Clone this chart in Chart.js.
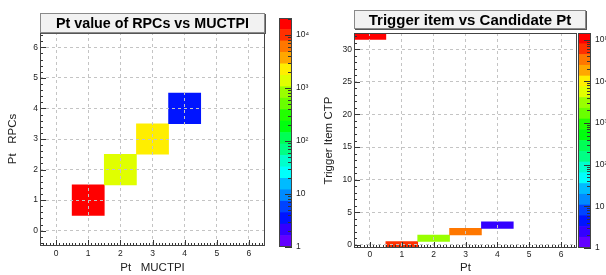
<!DOCTYPE html>
<html><head><meta charset="utf-8">
<script src="https://cdn.jsdelivr.net/npm/chart.js@4.4.1/dist/chart.umd.min.js"></script>
<style>
html,body{margin:0;padding:0;background:#fff;}
body{width:606px;height:275px;position:relative;overflow:hidden;font-family:"Liberation Sans","DejaVu Sans",Arial,sans-serif;}
canvas{position:absolute;top:0;}
.ttl{position:absolute;box-sizing:border-box;background:#f2f2f2;border:1px solid #8a8a8a;box-shadow:1px 1px 0 #555;font-weight:bold;font-size:15px;color:#000;text-align:center;white-space:nowrap;}
</style></head><body>
<canvas id="c1" width="303" height="275" style="left:0px"></canvas>
<canvas id="p1" width="50" height="275" style="left:270px"></canvas>
<canvas id="c2" width="303" height="275" style="left:303px"></canvas>
<canvas id="p2" width="36" height="275" style="left:570px"></canvas>
<div class="ttl" style="left:40px;top:13px;width:225px;height:20px;line-height:18px;font-size:14.3px">Pt value of RPCs vs MUCTPI</div>
<div class="ttl" style="left:354px;top:10px;width:232px;height:19px;line-height:17px">Trigger item vs Candidate Pt</div>
<script>
// ---- data ----
const rpcPtMuctpi = [1, 2, 3, 4];
const rpcPtRpc    = [1, 2, 3, 4];
const rpcCounts   = [20700, 1300, 2300, 4];

const trigPt      = [0, 1, 2, 3, 4];
const trigItem    = [32, 0, 1, 2, 3];
const trigCounts  = [144000, 60000, 3200, 35000, 3];

const ptTicks   = [0, 1, 2, 3, 4, 5, 6];
const rpcYTicks = [0, 1, 2, 3, 4, 5, 6];
const itemTicks = [0, 5, 10, 15, 20, 25, 30];
const zLabels = {1:'1', 10:'10', 100:'10\u00B2', 1000:'10\u00B3', 10000:'10\u2074', 100000:'10\u2075'};

// ---- style ----
const TF = "'Liberation Sans','DejaVu Sans',Arial,sans-serif";
const NB = 20;
function bandColor(k){
  const idx = Math.floor((k + 0.99) * 50 / NB);
  const hue = 280 - (idx + 1) * 5.6;
  return 'hsl(' + hue.toFixed(1) + ',100%,50%)';
}
function colorFor(v, zmax){
  let k = Math.floor(Math.log10(v) / Math.log10(zmax) * NB);
  k = Math.max(0, Math.min(NB - 1, k));
  return bandColor(k);
}
function range(a, b, st){ const r=[]; for(let i=0;a+i*st<=b+1e-9;i++){ r.push(+(a+i*st).toFixed(4)); } return r; }

const framePlugin = {
  id:'frame',
  afterDraw(chart, args, opts){
    const ctx = chart.ctx, a = chart.chartArea;
    ctx.save();
    ctx.strokeStyle = '#333'; ctx.lineWidth = 1;
    ctx.beginPath();
    for (const t of (opts.ticks || [])) {
      const s = chart.scales[t.axis];
      for (const v of t.values) {
        const p = Math.round(s.getPixelForValue(v)) + 0.5;
        if (t.side === 'bottom') { ctx.moveTo(p, a.bottom); ctx.lineTo(p, a.bottom - t.len); }
        else if (t.side === 'left') { ctx.moveTo(a.left, p); ctx.lineTo(a.left + t.len, p); }
        else { ctx.moveTo(a.right, p); ctx.lineTo(a.right - t.len, p); }
      }
    }
    ctx.stroke();
    ctx.strokeStyle = '#444';
    ctx.strokeRect(a.left + 0.5, a.top + 0.5, a.right - a.left - 1, a.bottom - a.top - 1);
    ctx.restore();
  }
};
function noPad(s){ s.paddingTop = 0; s.paddingBottom = 0; s.paddingLeft = 0; s.paddingRight = 0; }

function heat(id, xs, ys, counts, o){
  const zmax = Math.max(...counts);
  return new Chart(document.getElementById(id), {
    type:'bar',
    data:{datasets:[{
      data: xs.map((x, i) => ({x: x, y: [ys[i] - 0.5, ys[i] + 0.5]})),
      backgroundColor: counts.map(c => colorFor(c, zmax)),
      borderWidth:0, barPercentage:1, categoryPercentage:1, grouped:false
    }]},
    options:{
      responsive:false, animation:false, devicePixelRatio:1,
      layout:{padding:{left:0, top:o.top, right:o.right, bottom:0}},
      plugins:{legend:{display:false}, tooltip:{enabled:false}, title:{display:false},
        frame:{ticks:o.tickSpecs}},
      scales:{
        x:{type:'linear', min:-0.5, max:6.5, offset:false,
          afterBuildTicks:s => { s.ticks = ptTicks.map(v => ({value:v})); },
          afterFit:s => { s.height = o.xh; noPad(s); },
          grid:{color:'#c4c4c4', z:1, offset:false, drawTicks:false},
          border:{display:false, dash:[3,3]},
          ticks:{font:{size:8.5, family:TF}, color:'#222', padding:o.xpad, autoSkip:false, maxRotation:0},
          title:{display:true, text:o.xt, font:{size:11.5, family:TF}, color:'#222', padding:0}},
        y:{type:'linear', min:o.ymin, max:o.ymax,
          afterBuildTicks:s => { s.ticks = o.yTicks.map(v => ({value:v})); },
          afterFit:s => { s.width = o.yw; noPad(s); },
          grid:{color:'#c4c4c4', z:1, offset:false, drawTicks:false},
          border:{display:false, dash:[3,3]},
          ticks:{font:{size:8.5, family:TF}, color:'#222', padding:2, autoSkip:false},
          title:{display:true, text:o.yt, font:{size:11.5, family:TF}, color:'#222', padding:{top:o.ytpad, bottom:0}}}
      }
    },
    plugins:[framePlugin]
  });
}

function palette(id, counts, o){
  const zmax = Math.max(...counts);
  const L = Math.log10(zmax);
  const ds = [];
  for (let k = 0; k < NB; k++) {
    ds.push({data:[[Math.pow(10, k * L / NB), Math.pow(10, (k + 1) * L / NB)]],
      backgroundColor:bandColor(k), borderWidth:0, barPercentage:1, categoryPercentage:1, grouped:false});
  }
  const decades = [], minors = [];
  for (let d = 0; Math.pow(10, d) <= zmax; d++) {
    decades.push(Math.pow(10, d));
    for (let m = 2; m <= 9; m++) { const v = m * Math.pow(10, d); if (v <= zmax) minors.push(v); }
  }
  return new Chart(document.getElementById(id), {
    type:'bar',
    data:{labels:['z'], datasets:ds},
    options:{
      responsive:false, animation:false, devicePixelRatio:1,
      layout:{padding:{left:o.left, top:o.top, right:0, bottom:o.bottom}},
      plugins:{legend:{display:false}, tooltip:{enabled:false},
        frame:{ticks:[{axis:'y', side:'right', values:decades, len:7}, {axis:'y', side:'right', values:minors, len:4}]}},
      scales:{
        x:{display:false},
        y:{type:'logarithmic', position:'right', min:1, max:zmax,
          afterBuildTicks:s => { s.ticks = decades.map(v => ({value:v})); },
          afterFit:s => { s.width = o.w; noPad(s); },
          grid:{display:false, drawTicks:false}, border:{display:false},
          ticks:{callback:v => zLabels[v] || '', font:{size:8.5, family:TF}, color:'#222', padding:4, autoSkip:false}}
      }
    },
    plugins:[framePlugin]
  });
}

heat('c1', rpcPtMuctpi, rpcPtRpc, rpcCounts, {
  top:32, right:38, xh:29, yw:40, xpad:3, ymin:-0.5, ymax:6.5, yTicks:rpcYTicks,
  xt:'Pt   MUCTPI', yt:'Pt   RPCs', ytpad:6,
  tickSpecs:[
    {axis:'x', side:'bottom', values:ptTicks, len:6},
    {axis:'x', side:'bottom', values:range(-0.4, 6.4, 0.1), len:3},
    {axis:'y', side:'left', values:rpcYTicks, len:6},
    {axis:'y', side:'left', values:range(-0.4, 6.4, 0.2), len:3}
  ]
});
palette('p1', rpcCounts, {left:9, top:18, bottom:28, w:28});

heat('c2', trigPt, trigItem, trigCounts, {
  top:33, right:29, xh:27, yw:51, xpad:2, ymin:-0.5, ymax:32.5, yTicks:itemTicks,
  xt:'Pt', yt:'Trigger Item CTP', ytpad:19,
  tickSpecs:[
    {axis:'x', side:'bottom', values:ptTicks, len:6},
    {axis:'x', side:'bottom', values:range(-0.4, 6.4, 0.1), len:3},
    {axis:'y', side:'left', values:itemTicks, len:6},
    {axis:'y', side:'left', values:range(0, 32, 1), len:3}
  ]
});
palette('p2', trigCounts, {left:8, top:33, bottom:27, w:15});
</script>
</body></html>
